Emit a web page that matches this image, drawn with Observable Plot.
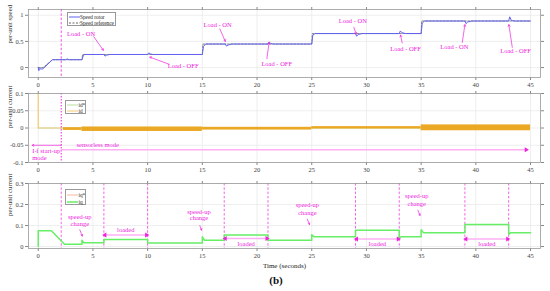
<!DOCTYPE html>
<html><head><meta charset="utf-8">
<script src="https://cdn.jsdelivr.net/npm/d3@7"></script>
<script src="https://cdn.jsdelivr.net/npm/@observablehq/plot@0.6"></script>
<style>
body{margin:0;background:#fff;}
#wrap{position:relative;width:550px;height:291px;font-family:"Liberation Serif",serif;overflow:hidden;}
.panel{position:absolute;left:0;}
.legend{position:absolute;background:#fff;border:0.8px solid #999;box-sizing:border-box;}
.row{position:absolute;left:0;height:6px;font-size:5.3px;line-height:6px;color:#222;white-space:nowrap;}
.row svg{position:absolute;left:1px;top:0;}
.row span{position:absolute;}
#tag{position:absolute;left:0;width:552px;top:274px;text-align:center;font-weight:bold;font-size:11px;color:#111;}
</style></head><body><div id="wrap"><div id="tag">(b)</div></div>
<script>
// ---------- shared ----------
const xDomain = [-0.89, 45.91];
const xTicks = [0, 5, 10, 15, 20, 25, 30, 35, 40, 45];
const modeSwitch = 2.1;

// ---------- panel 1: speed ----------
const speedTicks = [0, 0.5, 1];
const speedTime  = [0, 0.05, 0.12, 0.35, 0.45, 1.3, 2.5, 2.65, 2.8, 4.0, 4.1, 4.25, 6.0, 6.1, 6.25, 6.5, 10.0, 10.1, 10.25, 10.5, 15.0, 15.1, 15.3, 17.1, 17.2, 17.35, 17.7, 21.0, 21.1, 21.25, 21.5, 25.0, 25.1, 25.3, 29.0, 29.1, 29.25, 29.6, 33.0, 33.1, 33.25, 33.6, 35.0, 35.1, 35.3, 39.0, 39.1, 39.25, 39.6, 43.0, 43.1, 43.25, 43.6, 45.0];
const speedRotor = [0, -0.06, -0.02, -0.03, -0.02, 0.15, 0.15, 0.165, 0.15, 0.15, 0.22, 0.25, 0.25, 0.22, 0.235, 0.25, 0.25, 0.28, 0.26, 0.25, 0.25, 0.40, 0.45, 0.45, 0.41, 0.43, 0.45, 0.45, 0.49, 0.46, 0.45, 0.45, 0.62, 0.65, 0.65, 0.60, 0.63, 0.65, 0.65, 0.70, 0.665, 0.65, 0.65, 0.85, 0.89, 0.89, 0.84, 0.87, 0.89, 0.89, 0.97, 0.90, 0.89, 0.89];
const refTime  = [0, 0.45, 1.3, 4.0, 4.05, 15.0, 15.05, 25.0, 25.05, 35.0, 35.05, 45.0];
const refSpeed = [0, 0, 0.15, 0.15, 0.25, 0.25, 0.45, 0.45, 0.65, 0.65, 0.89, 0.89];
const loadText  = ["Load - ON", "Load - OFF", "Load - ON", "Load - OFF", "Load - ON", "Load - OFF", "Load - ON", "Load - OFF"];
const loadTextX = [3.91, 13.25, 16.4, 21.8, 28.75, 33.57, 38.04, 43.63];
const loadTextY = [0.64, 0.033, 0.82, 0.065, 0.885, 0.365, 0.40, 0.31];
const loadArrX1 = [5.08, 11.94, 16.6, 20.9, 28.85, 33.27, 38.76, 43.33];
const loadArrY1 = [0.59, 0.065, 0.74, 0.17, 0.77, 0.47, 0.48, 0.385];
const loadArrX2 = [5.95, 10.2, 17.1, 21.1, 29.07, 33.12, 39.0, 43.02];
const loadArrY2 = [0.33, 0.2, 0.5, 0.48, 0.64, 0.62, 0.82, 0.82];

// ---------- panel 2: id ----------
const idTicks = [-0.1, -0.05, 0, 0.05, 0.1];
const idStartTime = [0, 0, 0, 2.3];
const idStartValue = [0, 0.1, 0, 0];
const idBandStart = [2.3, 4, 15, 25, 35];
const idBandEnd   = [4, 15, 25, 35, 45];
const idBandLow   = [-0.007, -0.010, -0.006, -0.003, -0.008];
const idBandHigh  = [0.001, 0.003, 0.002, 0.004, 0.009];
const ifStartX = -0.55, ifArrowY = -0.05;
const ifText = ["I-f start-up", "mode"];
const ifTextY = [-0.066, -0.086];
const sensorlessText = "sensorless mode", sensorlessX = 3.5, sensorlessY = -0.049;
const sensorlessEnd = 44.6, sensorlessArrowY = -0.063;

// ---------- panel 3: iq ----------
const iqTicks = [0, 0.1, 0.2, 0.3];
const iqTime  = [0, 0, 1.2, 2.4, 4.0, 4.0, 4.15, 6.0, 6.0, 10.0, 10.0, 15.0, 15.0, 15.2, 17.0, 17.0, 21.0, 21.0, 25.0, 25.0, 25.2, 29.0, 29.0, 33.0, 33.0, 33.2, 35.0, 35.0, 35.2, 39.0, 39.0, 43.0, 43.0, 43.2, 45.0];
const iqValue = [0, 0.075, 0.075, 0.011, 0.011, 0.03, 0.018, 0.018, 0.034, 0.034, 0.017, 0.017, 0.046, 0.03, 0.03, 0.055, 0.055, 0.03, 0.03, 0.056, 0.047, 0.047, 0.077, 0.077, 0.04, 0.047, 0.047, 0.08, 0.066, 0.066, 0.105, 0.105, 0.058, 0.066, 0.066];
const eventTimes = [2.1, 6, 10, 17, 21, 29, 33, 39, 43];
const loadedStart = [6.1, 17.1, 29.1, 39.1];
const loadedEnd   = [9.9, 20.9, 32.9, 42.9];
const loadedArrowY = [0.055, 0.038, 0.036, 0.036];
const loadedTextY  = [0.078, 0.011, 0.011, 0.011];
const speedupX  = [3.8, 14.7, 24.6, 34.6];
const speedupY1 = [0.139, 0.167, 0.198, 0.24];
const speedupY2 = [0.108, 0.137, 0.16, 0.203];
const speedupArrX1 = [3.8, 14.77, 24.6, 34.7];
const speedupArrY1 = [0.08, 0.10, 0.13, 0.173];
const speedupArrX2 = [4.02, 14.93, 24.79, 34.9];
const speedupArrY2 = [0.05, 0.078, 0.105, 0.148];

// ---------- styles ----------
const FONT = "Liberation Serif, serif";
const MAG = "#ee22dd", PINK = "#ffb0f4";
const wrap = document.getElementById("wrap");
const fmt = d => String(d);

function frameMarks(yTicks) {
  return [
    Plot.gridX(xTicks, {stroke: "#e4e4e4", strokeOpacity: 1, strokeWidth: 0.6}),
    Plot.gridY(yTicks, {stroke: "#e4e4e4", strokeOpacity: 1, strokeWidth: 0.6}),
    Plot.axisX({anchor: "bottom", ticks: xTicks, tickSize: 3, tickPadding: 2, stroke: "#888", fill: "#444", tickFormat: fmt, label: null}),
    Plot.axisX({anchor: "top", ticks: xTicks, tickSize: 3, stroke: "#888", tickFormat: () => "", label: null}),
    Plot.axisY({anchor: "left", ticks: yTicks, tickSize: 3, tickPadding: 2, stroke: "#888", fill: "#444", tickFormat: fmt, label: null}),
    Plot.axisY({anchor: "right", ticks: yTicks, tickSize: 3, stroke: "#888", tickFormat: () => "", label: null})
  ];
}
function yLabel(text) {
  return Plot.text([text], {frameAnchor: "left", dx: -19, rotate: -90, text: d => d, fontSize: 6.8, fill: "#333"});
}
function place(svg, top) {
  svg.classList.add("panel");
  svg.style.top = top + "px";
  wrap.appendChild(svg);
}
function legend(left, top, w, h, rows) {
  const div = document.createElement("div");
  div.className = "legend";
  Object.assign(div.style, {left: left + "px", top: top + "px", width: w + "px", height: h + "px"});
  rows.forEach(r => {
    const row = document.createElement("div");
    row.className = "row";
    row.style.top = r.y + "px";
    row.style.width = w + "px";
    row.innerHTML = `<svg width="12" height="6"><line x1="0" y1="3" x2="11" y2="3" stroke="${r.color}" stroke-width="${r.width}" ${r.dash ? 'stroke-dasharray="2,1.5"' : ''}/></svg><span style="left:${r.tx}px">${r.label}</span>`;
    div.appendChild(row);
  });
  wrap.appendChild(div);
}

// ---------- panel 1 ----------
const speedData = speedTime.map((t, i) => ({t, v: speedRotor[i]}));
const refData = refTime.map((t, i) => ({t, v: refSpeed[i]}));
const loadData = loadText.map((s, i) => ({s, tx: loadTextX[i], ty: loadTextY[i], x1: loadArrX1[i], y1: loadArrY1[i], x2: loadArrX2[i], y2: loadArrY2[i]}));
const p1 = Plot.plot({
  width: 550, height: 89, marginLeft: 28, marginRight: 10, marginTop: 9, marginBottom: 12,
  style: {fontFamily: FONT, fontSize: "6.5px", background: "transparent", overflow: "visible"},
  x: {domain: xDomain}, y: {domain: [-0.19, 1.11]},
  marks: [
    ...frameMarks(speedTicks),
    Plot.ruleX([modeSwitch], {stroke: MAG, strokeDasharray: "2.5,1.8", strokeWidth: 0.8}),
    Plot.line(refData, {x: "t", y: "v", stroke: "#333", strokeWidth: 0.6, strokeDasharray: "2,1.5"}),
    Plot.line(speedData, {x: "t", y: "v", stroke: "#6262f0", strokeWidth: 1}),
    Plot.arrow(loadData, {x1: "x1", y1: "y1", x2: "x2", y2: "y2", stroke: MAG, strokeWidth: 0.7, headLength: 4}),
    Plot.text(loadData, {x: "tx", y: "ty", text: "s", fill: MAG, fontSize: 6.5}),
    Plot.frame({stroke: "#999", strokeWidth: 0.8}),
    yLabel("per-unit speed")
  ]
});
place(p1, 0);
legend(66.5, 12, 49.5, 14, [
  {y: 1, color: "#6262f0", width: 1, label: "Speed rotor", tx: 12.5},
  {y: 6.8, color: "#222", width: 0.7, dash: true, label: "Speed reference", tx: 12.5}
]);

// ---------- panel 2 ----------
const idStart = idStartTime.map((t, i) => ({t, v: idStartValue[i]}));
const idBand = idBandStart.map((s, i) => ({s, e: idBandEnd[i], lo: idBandLow[i], hi: idBandHigh[i]}));
const p2 = Plot.plot({
  width: 550, height: 84, marginLeft: 28, marginRight: 10, marginTop: 4, marginBottom: 11,
  style: {fontFamily: FONT, fontSize: "6.5px", background: "transparent", overflow: "visible"},
  x: {domain: xDomain}, y: {domain: [-0.1, 0.1]},
  marks: [
    ...frameMarks(idTicks),
    Plot.ruleY([0], {x1: 0, x2: 45, stroke: "#b8e0a0", strokeWidth: 0.8}),
    Plot.line(idStart, {x: "t", y: "v", stroke: "#f5c870", strokeWidth: 0.8}),
    Plot.rect(idBand, {x1: "s", x2: "e", y1: "lo", y2: "hi", fill: "#eaa824"}),
    Plot.ruleX([modeSwitch], {stroke: MAG, strokeDasharray: "1.5,1.5", strokeWidth: 1}),
    Plot.ruleY([sensorlessArrowY], {x1: modeSwitch, x2: sensorlessEnd, stroke: PINK, strokeWidth: 1.6}),
    Plot.dot([sensorlessEnd], {x: d => d, y: sensorlessArrowY, symbol: "triangle", r: 1.8, fill: MAG, rotate: 90}),
    Plot.arrow([ifStartX], {x1: modeSwitch, y1: ifArrowY, x2: d => d, y2: ifArrowY, stroke: MAG, strokeWidth: 0.7, headLength: 4}),
    Plot.text(ifText, {x: ifStartX, y: (d, i) => ifTextY[i], text: d => d, textAnchor: "start", fill: MAG, fontSize: 6.5}),
    Plot.text([sensorlessText], {x: sensorlessX, y: sensorlessY, text: d => d, textAnchor: "start", fill: MAG, fontSize: 6.5}),
    Plot.frame({stroke: "#999", strokeWidth: 0.8}),
    yLabel("per-unit current")
  ]
});
place(p2, 89);
legend(65, 100, 21, 13.5, [
  {y: 1, color: "#b8e0a0", width: 1, label: "id*", tx: 12.5},
  {y: 6.5, color: "#f5c870", width: 1, label: "id", tx: 12.5}
]);

// ---------- panel 3 ----------
const iqData = iqTime.map((t, i) => ({t, v: iqValue[i]}));
const loadedData = loadedStart.map((s, i) => ({s, e: loadedEnd[i], y: loadedArrowY[i], ty: loadedTextY[i]}));
const speedupData = speedupX.map((x, i) => ({x, y1: speedupY1[i], y2: speedupY2[i], ax1: speedupArrX1[i], ay1: speedupArrY1[i], ax2: speedupArrX2[i], ay2: speedupArrY2[i]}));
const p3 = Plot.plot({
  width: 550, height: 99, marginLeft: 28, marginRight: 10, marginTop: 10, marginBottom: 24,
  style: {fontFamily: FONT, fontSize: "6.5px", background: "transparent", overflow: "visible"},
  x: {domain: xDomain}, y: {domain: [-0.0094, 0.3]},
  marks: [
    ...frameMarks(iqTicks),
    Plot.ruleX(eventTimes, {stroke: MAG, strokeDasharray: "2.5,1.8", strokeWidth: 0.7}),
    Plot.line(iqData, {x: "t", y: "v", stroke: "#66ee66", strokeWidth: 1.5}),
    Plot.ruleY(loadedData, {x1: "s", x2: "e", y: "y", stroke: PINK, strokeWidth: 1.6}),
    Plot.dot(loadedData, {x: "s", y: "y", symbol: "triangle", r: 1.8, fill: MAG, rotate: -90}),
    Plot.dot(loadedData, {x: "e", y: "y", symbol: "triangle", r: 1.8, fill: MAG, rotate: 90}),
    Plot.text(loadedData, {x: d => (d.s + d.e) / 2, y: "ty", text: () => "loaded", fill: MAG, fontSize: 6.5}),
    Plot.text(speedupData, {x: "x", y: "y1", text: () => "speed-up", fill: MAG, fontSize: 6.5}),
    Plot.text(speedupData, {x: "x", y: "y2", text: () => "change", fill: MAG, fontSize: 6.5}),
    Plot.arrow(speedupData, {x1: "ax1", y1: "ay1", x2: "ax2", y2: "ay2", stroke: MAG, strokeWidth: 0.7, headLength: 3.5}),
    Plot.frame({stroke: "#999", strokeWidth: 0.8}),
    yLabel("per-unit current"),
    Plot.text(["Time (seconds)"], {frameAnchor: "bottom", dy: 19, text: d => d, fontSize: 7, fill: "#222"})
  ]
});
place(p3, 173);
legend(65, 189, 20.5, 15.5, [
  {y: 2, color: "#f8b898", width: 1, label: "iq*", tx: 12.5},
  {y: 8.5, color: "#66ee66", width: 1.5, label: "iq", tx: 12.5}
]);
</script>
</body></html>
